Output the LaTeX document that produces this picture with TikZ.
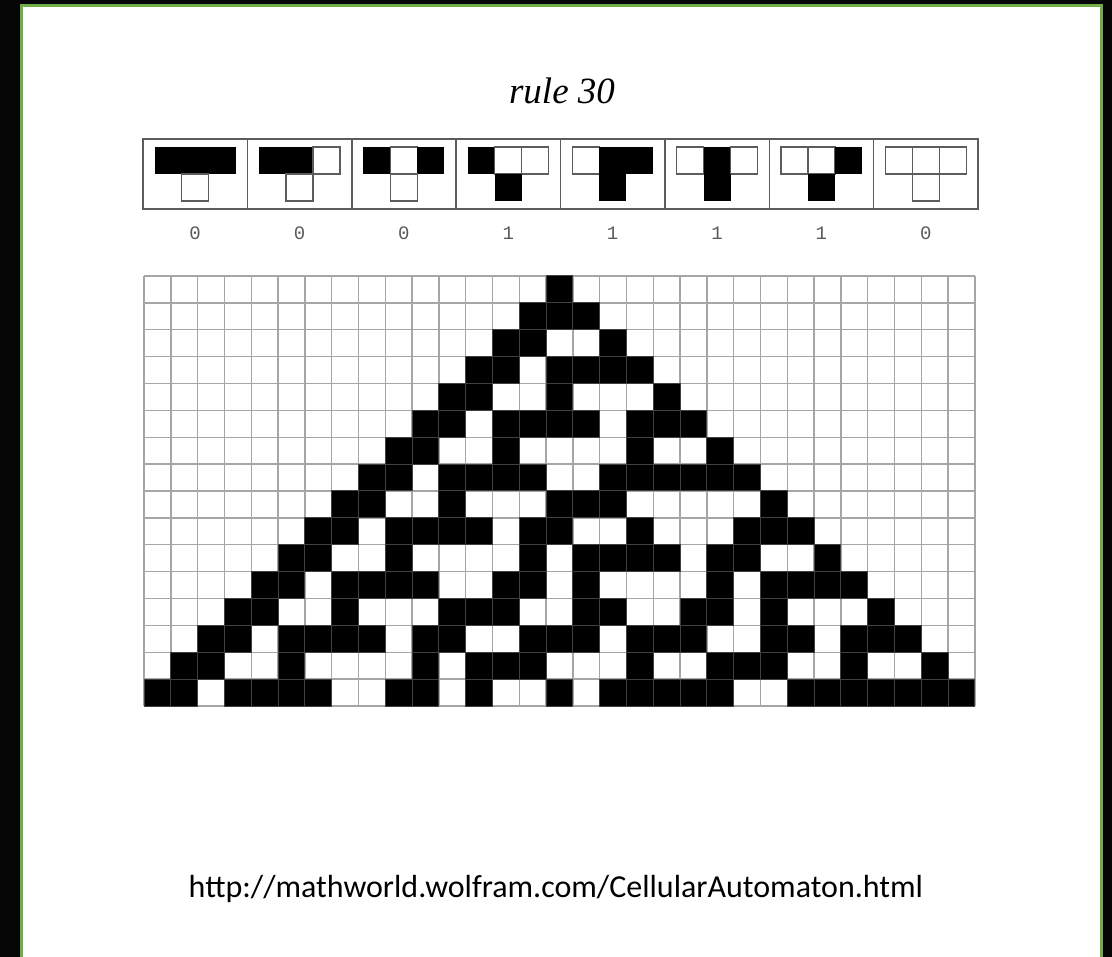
\documentclass[tikz,border=0pt]{standalone}
\usepackage{fontspec}
\newfontfamily\titlefont{Liberation Serif}
\newfontfamily\urlfont{Carlito}
\newfontfamily\digitfont{Liberation Mono}
\definecolor{framegreen}{HTML}{70AD47}
\definecolor{gridgray}{HTML}{A6A6A6}
\definecolor{boxgray}{HTML}{5C5C5C}

\begin{document}
\begin{tikzpicture}[x=1pt, y=-1pt,
    gridline/.style={gridgray, line width=1.4pt},
    boxline/.style={boxgray, line width=1.5pt},
    icon0/.style={draw=boxgray, line width=1.2pt, fill=white},
    icon1/.style={fill=black},
    cell0/.style={},
    cell1/.style={fill=black, draw=black!75, line width=1pt}]
  % page, black margin and green frame
  \useasboundingbox (0,0) rectangle (1112,957);
  \fill[black!98] (0,0) rectangle (1112,957);
  \fill[white] (21.5,5.5) rectangle (1101,957);
  \draw[framegreen, line width=3pt] (21.5,957) -- (21.5,5.5) -- (1101,5.5) -- (1101,957);

  \node[font=\titlefont\itshape\fontsize{37}{37}\selectfont, anchor=base] (title) at (562,104) {rule 30};

  % the eight rule icons
  \draw[boxline] (143,139) rectangle (978,209);
  \foreach \i in {1,...,7}
    \draw[boxline] ({143+104.375*\i},139) -- ({143+104.375*\i},209);
  \foreach \a/\b/\c/\out [count=\i from 0] in
      {1/1/1/0, 1/1/0/0, 1/0/1/0, 1/0/0/1, 0/1/1/1, 0/1/0/1, 0/0/1/1, 0/0/0/0} {
    \pgfmathsetmacro{\mx}{143+104.375*(\i+0.5)}
    \path[icon\a] ({\mx-40.5},147) rectangle +(27,27);
    \path[icon\b] ({\mx-13.5},147) rectangle +(27,27);
    \path[icon\c] ({\mx+13.5},147) rectangle +(27,27);
    \path[icon\out] ({\mx-13.5},174) rectangle +(27,27);
    \node[font=\digitfont\fontsize{19}{19}\selectfont, text=black!65] (out\i) at (\mx,233) {\out};
  }

  % evolution from one black cell
  \foreach \k in {0,...,31}
    \draw[gridline] ({144+26.8*\k},276) -- ({144+26.8*\k},706);
  \foreach \r in {0,...,16}
    \draw[gridline] (144,{276+26.875*\r}) -- (975,{276+26.875*\r});
  \foreach \r/\bits in {
      0/{1},
      1/{1,1,1},
      2/{1,1,0,0,1},
      3/{1,1,0,1,1,1,1},
      4/{1,1,0,0,1,0,0,0,1},
      5/{1,1,0,1,1,1,1,0,1,1,1},
      6/{1,1,0,0,1,0,0,0,0,1,0,0,1},
      7/{1,1,0,1,1,1,1,0,0,1,1,1,1,1,1},
      8/{1,1,0,0,1,0,0,0,1,1,1,0,0,0,0,0,1},
      9/{1,1,0,1,1,1,1,0,1,1,0,0,1,0,0,0,1,1,1},
      10/{1,1,0,0,1,0,0,0,0,1,0,1,1,1,1,0,1,1,0,0,1},
      11/{1,1,0,1,1,1,1,0,0,1,1,0,1,0,0,0,0,1,0,1,1,1,1},
      12/{1,1,0,0,1,0,0,0,1,1,1,0,0,1,1,0,0,1,1,0,1,0,0,0,1},
      13/{1,1,0,1,1,1,1,0,1,1,0,0,1,1,1,0,1,1,1,0,0,1,1,0,1,1,1},
      14/{1,1,0,0,1,0,0,0,0,1,0,1,1,1,0,0,0,1,0,0,1,1,1,0,0,1,0,0,1},
      15/{1,1,0,1,1,1,1,0,0,1,1,0,1,0,0,1,0,1,1,1,1,1,0,0,1,1,1,1,1,1,1}} {
    \foreach \b [count=\k from 0] in \bits
      \path[cell\b] ({144+26.8*(15-\r+\k)},{276+26.875*\r}) rectangle +(26.8,26.875);
  }

  \node[font=\urlfont\fontsize{32}{32}\selectfont, anchor=base] (source) at (556,897)
    {http://mathworld.wolfram.com/CellularAutomaton.html};
\end{tikzpicture}
\end{document}
